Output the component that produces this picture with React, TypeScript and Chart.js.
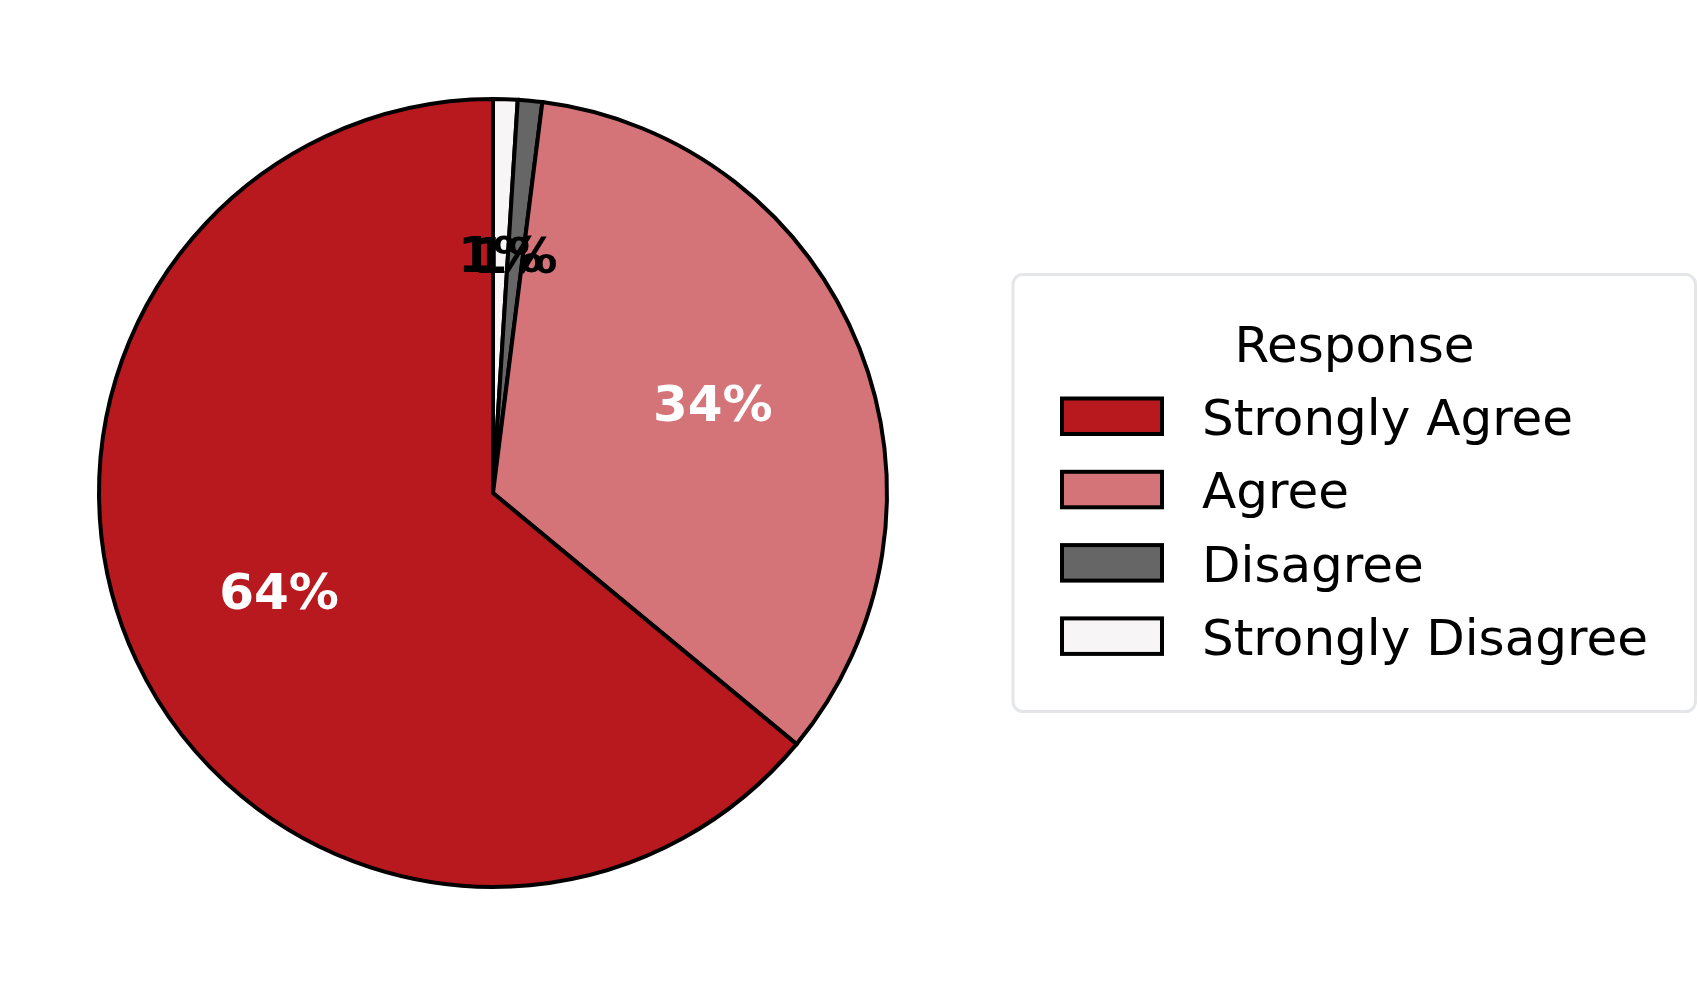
import { useEffect, useRef } from "react";
import { Chart, registerables } from "chart.js";

Chart.register(...registerables);

// legend order (matplotlib draws these counter-clockwise from the top)
const categories = ["Strongly Agree", "Agree", "Disagree", "Strongly Disagree"];
const shares = [64, 34, 1, 1];
const legendTitle = "Response";

const sliceColors = ["#b8191f", "#d47479", "#666666", "#f7f5f6"];
const pctColors = ["#ffffff", "#ffffff", "#000000", "#000000"];
const FONT = "'DejaVu Sans', 'Noto Sans', sans-serif";

// Chart.js goes clockwise, so feed the slices reversed
const rev = <T,>(a: T[]) => a.slice().reverse();

const pctLabels = {
  id: "pctLabels",
  afterDatasetsDraw(chart: any) {
    const ctx = chart.ctx;
    const ds = chart.data.datasets[0];
    const values = ds.data as number[];
    const total = values.reduce((s, v) => s + v, 0);
    const meta = chart.getDatasetMeta(0);
    ctx.save();
    ctx.font = `bold 50px ${FONT}`;
    ctx.textAlign = "center";
    ctx.textBaseline = "alphabetic";
    meta.data.forEach((arc: any, i: number) => {
      const { x, y, startAngle, endAngle, outerRadius } = arc.getProps(
        ["x", "y", "startAngle", "endAngle", "outerRadius"],
        true
      );
      const mid = (startAngle + endAngle) / 2;
      const r = outerRadius * 0.6;
      const px = x + Math.cos(mid) * r;
      const py = y + Math.sin(mid) * r;
      ctx.fillStyle = ds.pctColor[i];
      ctx.fillText(`${Math.round((values[i] / total) * 100)}%`, px, py + 15);
    });
    ctx.restore();
  },
};

const frameLegend = {
  id: "frameLegend",
  afterDraw(chart: any) {
    const ctx = chart.ctx;
    const labels = chart.data.labels as string[];
    const ds = chart.data.datasets[0];
    const n = labels.length;

    ctx.save();
    ctx.beginPath();
    ctx.roundRect(1013, 274.5, 682.5, 437, 10);
    ctx.fillStyle = "#ffffff";
    ctx.fill();
    ctx.lineWidth = 3;
    ctx.strokeStyle = "#e5e6ea";
    ctx.stroke();

    ctx.fillStyle = "#000000";
    ctx.font = `50px ${FONT}`;
    ctx.textAlign = "center";
    ctx.textBaseline = "alphabetic";
    ctx.fillText(legendTitle, 1354.5, 361.5);

    ctx.textAlign = "left";
    for (let k = 0; k < n; k++) {
      const idx = n - 1 - k;
      const top = 398.5 + k * 73.3;
      ctx.fillStyle = ds.backgroundColor[idx];
      ctx.fillRect(1062, top, 100, 35.5);
      ctx.lineWidth = 4;
      ctx.strokeStyle = "#000000";
      ctx.strokeRect(1062, top, 100, 35.5);
      ctx.fillStyle = "#000000";
      ctx.fillText(labels[idx], 1202, 435 + k * 73.3);
    }
    ctx.restore();
  },
};

export default function App() {
  const canvasRef = useRef<HTMLCanvasElement>(null);
  const chartRef = useRef<any>(null);

  useEffect(() => {
    document.body.style.margin = "0";
    if (!canvasRef.current) return;
    const ctx = canvasRef.current.getContext("2d");
    if (!ctx) return;
    if (chartRef.current) chartRef.current.destroy();

    chartRef.current = new Chart(ctx, {
      type: "pie",
      data: {
        labels: rev(categories),
        datasets: [
          {
            data: rev(shares),
            backgroundColor: rev(sliceColors),
            borderColor: "#000000",
            borderWidth: 4,
            borderJoinStyle: "miter",
            radius: 394,
            pctColor: rev(pctColors),
          } as any,
        ],
      },
      options: {
        responsive: true,
        maintainAspectRatio: false,
        animation: false,
        layout: { padding: { left: 0, top: 0, bottom: 0, right: 712 } },
        plugins: {
          legend: { display: false },
          tooltip: { enabled: false },
        },
      },
      plugins: [pctLabels, frameLegend],
    });

    return () => chartRef.current?.destroy();
  }, []);

  return (
    <div style={{ position: "relative", width: 1698, height: 986, background: "#ffffff" }}>
      <canvas ref={canvasRef} />
    </div>
  );
}
